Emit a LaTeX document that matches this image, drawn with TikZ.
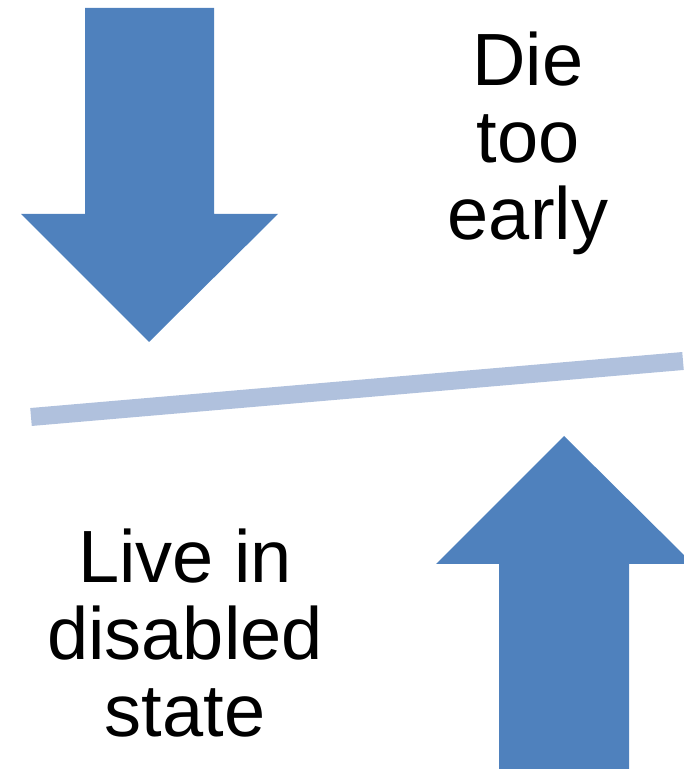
\documentclass[tikz,border=0pt]{standalone}
\usepackage{fontspec}
\setmainfont{Liberation Sans}
\definecolor{arrowblue}{HTML}{4F81BD}
\definecolor{lineblue}{HTML}{B0C1DD}
\begin{document}
\begin{tikzpicture}[x=1pt,y=1pt,
  bigarrow/.style={fill=arrowblue,draw=none},
  label/.style={align=center,inner sep=0pt,font=\fontsize{74}{77}\selectfont}]
\useasboundingbox (0,0) rectangle (684,769);
% down arrow
\fill[bigarrow] (85,761) -- (214,761) -- (214,555) -- (278,555) -- (149,427) -- (21,555) -- (85,555) -- cycle;
% up arrow
\begin{scope}
\clip (0,0) rectangle (684,769);
\fill[bigarrow] (499,0) -- (629,0) -- (629,205) -- (693,205) -- (564,333) -- (436,205) -- (499,205) -- cycle;
\end{scope}
% balance line
\coordinate (l1) at (31,352);
\coordinate (l2) at (683,408);
\draw[lineblue,line width=18pt] (l1) -- (l2);
% texts
\node[label] (die) at (528,625.7) {Die\\too\\early};
\node[label] (live) at (185,135.5) {Live in\\disabled\\state};
\end{tikzpicture}
\end{document}
